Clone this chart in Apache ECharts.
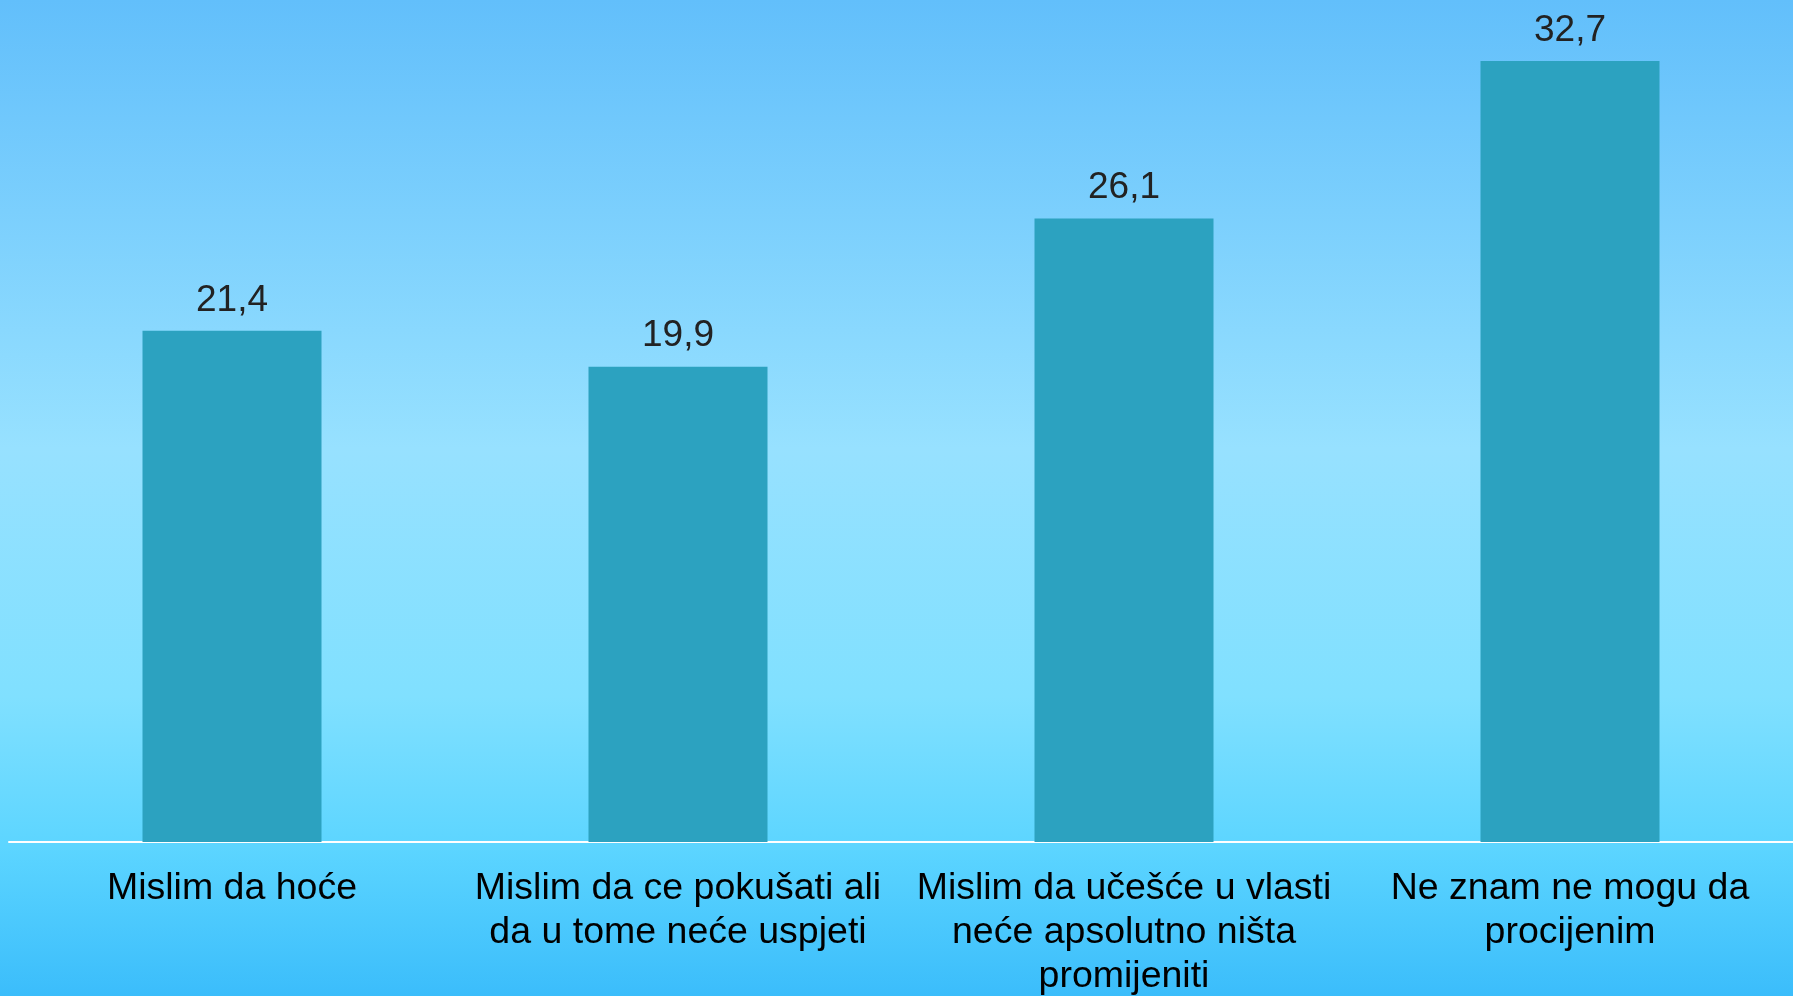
<!DOCTYPE html>
<html>
<head>
<meta charset="utf-8">
<script src="https://cdn.jsdelivr.net/npm/echarts@6/dist/echarts.min.js"></script>
<style>
html,body{margin:0;padding:0;width:1793px;height:996px;overflow:hidden;}
#c{width:1793px;height:996px;}
</style>
</head>
<body>
<div id="c"></div>
<script>
var categories = [
  "Mislim da hoće",
  "Mislim da ce pokušati ali\nda u tome neće uspjeti",
  "Mislim da učešće u vlasti\nneće apsolutno ništa\npromijeniti",
  "Ne znam ne mogu da\nprocijenim"
];
var values = [21.4, 19.9, 26.1, 32.7];

var chart = echarts.init(document.getElementById('c'));
chart.setOption({
  backgroundColor: {
    type: 'linear', x: 0, y: 0, x2: 0, y2: 1,
    colorStops: [
      {offset: 0, color: '#62bffb'},
      {offset: 0.45, color: '#97e1ff'},
      {offset: 0.7, color: '#80e0ff'},
      {offset: 0.85, color: '#5cd5ff'},
      {offset: 1, color: '#3bbdfb'}
    ]
  },
  animation: false,
  grid: {left: 9, right: 0, top: 6, bottom: 154, outerBoundsMode: 'none', containLabel: false},
  xAxis: {
    type: 'category',
    data: categories,
    axisLine: {show: true, lineStyle: {color: '#ffffff', width: 2}},
    axisTick: {show: false},
    axisLabel: {
      interval: 0,
      color: '#000000',
      fontFamily: 'Liberation Sans, Arial, sans-serif',
      fontSize: 37.5,
      lineHeight: 44,
      margin: 25
    }
  },
  yAxis: {
    type: 'value', min: 0, max: 35, show: false,
    splitLine: {show: false}
  },
  series: [{
    type: 'bar',
    data: values,
    barWidth: 179,
    itemStyle: {color: '#2ca2c0'},
    label: {
      show: true,
      position: 'top',
      distance: 12,
      color: '#222222',
      fontFamily: 'Liberation Sans, Arial, sans-serif',
      fontSize: 37,
      formatter: function (p) { return String(p.value.toFixed(1)).replace('.', ','); }
    }
  }]
});
</script>
</body>
</html>
